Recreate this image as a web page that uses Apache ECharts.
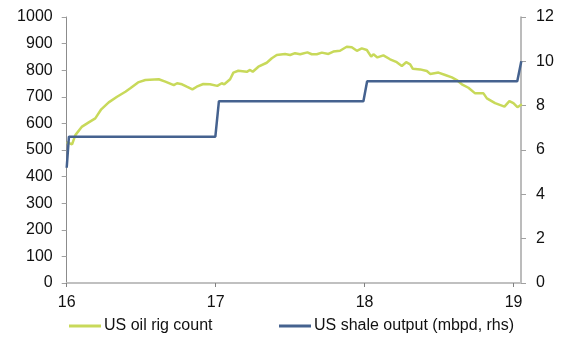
<!DOCTYPE html>
<html><head><meta charset="utf-8">
<script src="https://cdn.jsdelivr.net/npm/echarts@6/dist/echarts.min.js"></script>
<style>html,body{margin:0;padding:0;background:#fff}#c{width:572px;height:356px}</style>
</head><body><div id="c"></div>
<script>
// Rig count (left axis), x in decimal years (16 = 2016)
var rigYears = [16.00,16.036,16.058,16.103,16.148,16.192,16.232,16.282,16.338,16.394,16.427,16.479,16.528,16.618,16.662,16.719,16.741,16.774,16.806,16.844,16.873,16.917,16.962,17.011,17.041,17.058,17.097,17.119,17.152,17.209,17.231,17.249,17.287,17.343,17.377,17.410,17.466,17.500,17.533,17.567,17.616,17.645,17.679,17.713,17.757,17.790,17.835,17.880,17.914,17.948,17.981,18.015,18.044,18.059,18.086,18.126,18.171,18.216,18.250,18.279,18.306,18.324,18.373,18.418,18.440,18.496,18.541,18.586,18.619,18.653,18.697,18.742,18.798,18.821,18.876,18.939,18.972,18.999,19.026,19.056];
var rigCount = [530,521,556,588,604,619,653,679,700,719,732,754,763,766,757,744,751,747,738,728,738,748,747,741,751,747,766,791,798,794,801,794,813,828,845,857,861,857,864,860,867,860,860,866,861,870,873,888,886,873,882,876,851,860,848,856,841,830,816,830,822,805,803,797,786,791,782,773,763,747,734,713,713,694,676,663,684,676,661,672];
// Shale output (right axis)
var shaleYears = [16.00,16.015,16.998,17.022,17.992,18.017,19.025,19.052];
var shaleOutput = [5.2,6.6,6.6,8.2,8.2,9.1,9.1,10.0];
var xTicks = [16,17,18,19];
var seriesNames = ['US oil rig count','US shale output (mbpd, rhs)'];

function zip(a,b){return a.map(function(v,i){return [v,b[i]];});}
var font = 'Liberation Sans, Arial, sans-serif';
var fs = 16;
var chart = echarts.init(document.getElementById('c'));
chart.setOption({
  animation:false,
  grid:{left:66.7,right:51,top:17,bottom:73},
  legend:[
    {data:[seriesNames[0]],left:69,top:318,padding:0,icon:'rect',itemWidth:32,itemHeight:3,itemGap:3,
     textStyle:{fontFamily:font,fontSize:fs,color:'#111',padding:[0,0,0,-2]}},
    {data:[seriesNames[1]],left:279,top:318,padding:0,icon:'rect',itemWidth:32,itemHeight:3,itemGap:3,
     textStyle:{fontFamily:font,fontSize:fs,color:'#111',padding:[0,0,0,-2]}}
  ],
  xAxis:{type:'value',min:16,max:19.05,interval:1,
    axisLine:{lineStyle:{color:'#c0c0c0',width:2}},
    axisTick:{show:true,customValues:xTicks,length:4,lineStyle:{color:'#808080'}},
    axisLabel:{customValues:xTicks,margin:12,fontFamily:font,fontSize:fs,color:'#111'},
    splitLine:{show:false}},
  yAxis:[
    {type:'value',min:0,max:1000,interval:100,position:'left',
     axisLine:{show:true,lineStyle:{color:'#8c8c8c',width:1}},
     axisTick:{show:true,length:5,lineStyle:{color:'#a0a0a0'}},
     axisLabel:{margin:14,fontFamily:font,fontSize:fs,color:'#111',formatter:function(v){return String(v);}},
     splitLine:{show:false}},
    {type:'value',min:0,max:12,interval:2,position:'right',
     axisLine:{show:true,lineStyle:{color:'#a6a6a6',width:1.5}},
     axisTick:{show:true,length:5,lineStyle:{color:'#a0a0a0'}},
     axisLabel:{margin:15,fontFamily:font,fontSize:fs,color:'#111'},
     splitLine:{show:false}}
  ],
  series:[
    {name:seriesNames[0],type:'line',yAxisIndex:0,data:zip(rigYears,rigCount),showSymbol:false,
     lineStyle:{color:'#c8d95a',width:2.5},itemStyle:{color:'#c8d95a'}},
    {name:seriesNames[1],type:'line',yAxisIndex:1,data:zip(shaleYears,shaleOutput),showSymbol:false,
     lineStyle:{color:'#45628f',width:2.5},itemStyle:{color:'#45628f'}}
  ]
});
</script></body></html>
